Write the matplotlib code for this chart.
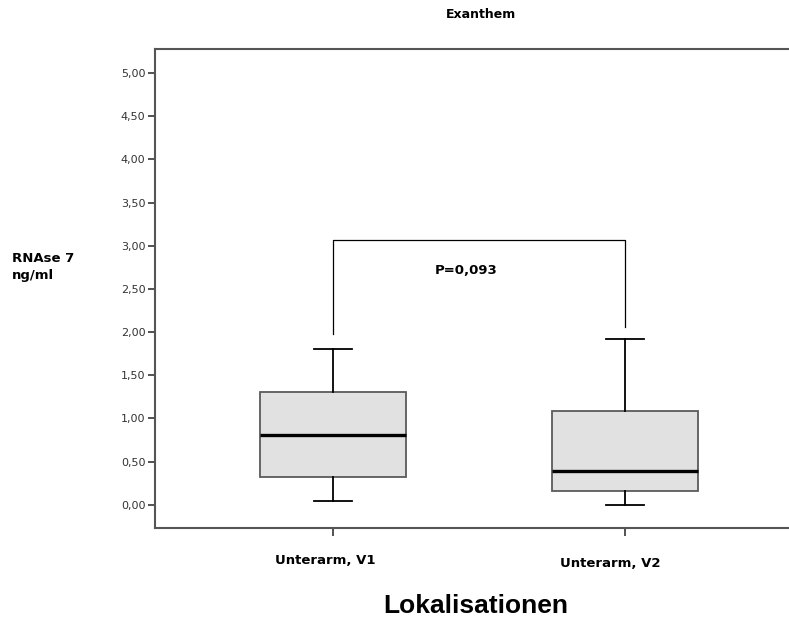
import matplotlib
matplotlib.use("Agg")
import matplotlib.pyplot as plt
import matplotlib.transforms as mtrans
from matplotlib.font_manager import FontProperties

# values
groups = ['Unterarm, V1', 'Unterarm, V2']
q1 = [0.32, 0.16]
med = [0.81, 0.39]
q3 = [1.30, 1.08]
whislo = [0.04, 0.00]
whishi = [1.80, 1.92]
yticks = [0.0, 0.5, 1.0, 1.5, 2.0, 2.5, 3.0, 3.5, 4.0, 4.5, 5.0]
p_text = 'P=0,093'
bracket_top = 3.07
bracket_ends = [1.98, 2.06]

fig = plt.figure(figsize=(7.89, 6.2), dpi=100)
ax = fig.add_axes([155 / 789, 92 / 620, 634 / 789, 479 / 620])

stats = []
for i in range(len(groups)):
    stats.append(dict(med=med[i], q1=q1[i], q3=q3[i], whislo=whislo[i],
                      whishi=whishi[i], fliers=[], label=groups[i]))

pos = [1, 2]
ax.bxp(stats, positions=pos, widths=0.5, patch_artist=True, showfliers=False,
       boxprops=dict(facecolor='#e1e1e1', edgecolor='#5a5a5a', linewidth=1.3),
       medianprops=dict(color='black', linewidth=2.4),
       whiskerprops=dict(color='black', linewidth=1.3),
       capprops=dict(color='black', linewidth=1.3), capwidths=0.13)

# significance bracket
ax.plot([pos[0], pos[0], pos[1], pos[1]],
        [bracket_ends[0], bracket_top, bracket_top, bracket_ends[1]],
        color='black', linewidth=0.9)
ax.text(1.35, 2.71, p_text, fontsize=9.5, fontweight='bold', va='center', ha='left')

ax.set_xlim(0.39, 2.562)
ax.set_ylim(-0.27, 5.28)
ax.set_yticks(yticks)
ax.set_yticklabels([('%.2f' % v).replace('.', ',') for v in yticks],
                   fontsize=8, color='#333333')
ax.set_xticks(pos)
ax.set_xticklabels(groups, fontsize=9.5, fontweight='bold')
ax.tick_params(axis='y', length=5, width=1.3, color='#444444', pad=2)
ax.tick_params(axis='x', length=6, width=1.3, color='#444444', pad=13)
# labels sit a bit left (and the second a bit lower) in the original
lab1, lab2 = ax.get_xticklabels()
lab1.set_transform(lab1.get_transform() + mtrans.ScaledTranslation(-0.08, 0, fig.dpi_scale_trans))
lab2.set_transform(lab2.get_transform() + mtrans.ScaledTranslation(-0.15, -0.03, fig.dpi_scale_trans))

for s in ['left', 'top', 'bottom']:
    ax.spines[s].set_color('#555555')
    ax.spines[s].set_linewidth(1.5)
ax.spines['right'].set_visible(False)

fig.text(481 / 789, 1 - 15 / 620, 'Exanthem', fontsize=9, fontweight='bold',
         ha='center', va='center')
fig.text(12 / 789, 1 - 267 / 620, 'RNAse 7\nng/ml', fontsize=9.5, fontweight='bold',
         ha='left', va='center', linespacing=1.4)
big = FontProperties(family='Liberation Sans', weight='bold', stretch='normal', size=19)
fig.text(476 / 789, 1 - 606 / 620, 'Lokalisationen', fontproperties=big,
         ha='center', va='center')

fig.savefig('out.png', dpi=100)
